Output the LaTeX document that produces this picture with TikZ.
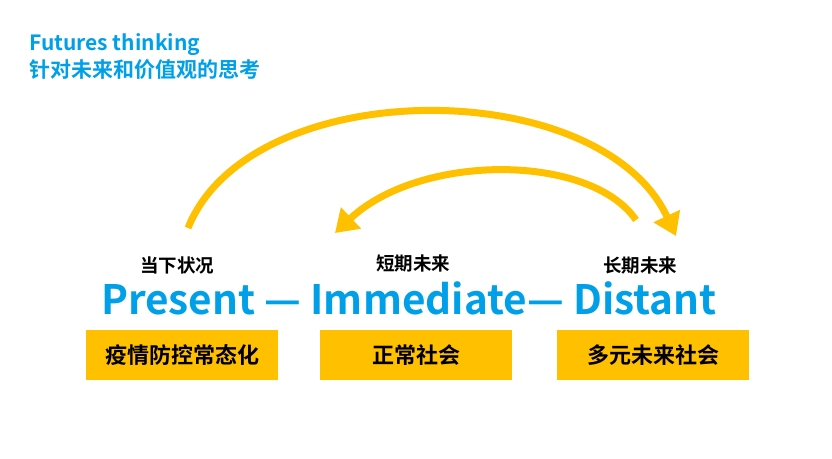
\documentclass[tikz,border=0pt]{standalone}
\usepackage{fontspec}
\setmainfont{Noto Sans CJK SC}
\newfontfamily\cjkb{Noto Sans CJK SC Bold}
\usetikzlibrary{arrows.meta}
\definecolor{myblue}{HTML}{00A0E9}
\definecolor{myyel}{HTML}{FFC000}
\tikzset{
 ybox/.style={fill=myyel,minimum width=192pt,minimum height=50pt,inner sep=0pt,font=\cjkb\fontsize{22pt}{24pt}\selectfont},
 lab/.style={font=\cjkb\fontsize{18.5pt}{20pt}\selectfont,inner sep=0pt},
 arc/.style={myyel,line width=7pt,-{Triangle[length=22pt,width=28pt]}}
}
\begin{document}
\begin{tikzpicture}[x=1pt,y=1pt]
\useasboundingbox (0,0) rectangle (832,458);
\node[anchor=west,text=myblue,font=\cjkb\fontsize{21pt}{23pt}\selectfont,inner sep=0pt] (t1) at (29,413) {Futures thinking};
\node[anchor=west,text=myblue,font=\cjkb\fontsize{21pt}{23pt}\selectfont,inner sep=0pt] (t2) at (29,388) {针对未来和价值观的思考};
\node[lab] (l1) at (177,193) {当下状况};
\node[lab] (l2) at (413,195) {短期未来};
\node[lab] (l3) at (640,193) {长期未来};
\node[text=myblue,font=\cjkb\fontsize{40.5pt}{42pt}\selectfont,inner sep=0pt] (main) at (409,160) {Present — Immediate— Distant};
\node[ybox] (b1) at (182,103) {疫情防控常态化};
\node[ybox] (b2) at (416,103) {正常社会};
\node[ybox] (b3) at (653,103) {多元未来社会};
\coordinate (a1s) at (188,230);
\coordinate (a1e) at (676,222);
\coordinate (a2s) at (636,238);
\coordinate (a2e) at (335,225);
\draw[arc] (a1s) .. controls (250,385) and (600,385) .. (a1e);
\draw[arc] (a2s) .. controls (590,305) and (420,305) .. (a2e);
\end{tikzpicture}
\end{document}
